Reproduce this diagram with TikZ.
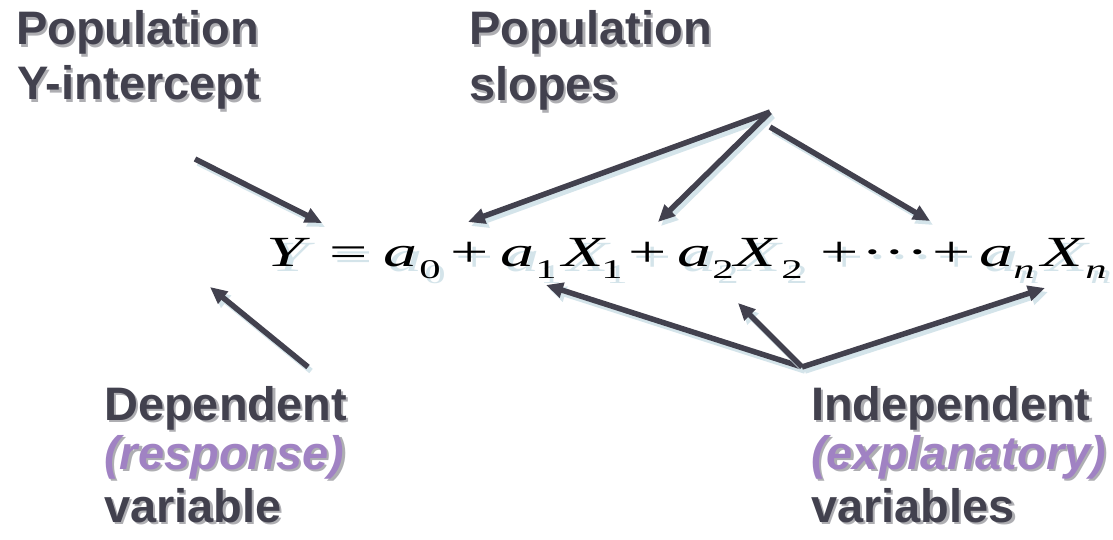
\documentclass[tikz,border=0pt]{standalone}
\usepackage{fontspec}
\setmainfont{Liberation Serif}
\newfontfamily\labfont{Liberation Sans}
\usetikzlibrary{arrows.meta}
\definecolor{ink}{RGB}{66,65,78}
\definecolor{lilac}{RGB}{160,130,195}
\definecolor{shade}{RGB}{212,228,234}
\definecolor{tshadow}{RGB}{120,120,128}
\newcommand\eqbig{\fontsize{43}{43}\selectfont}
\newcommand\eqsmall{\fontsize{27}{27}\selectfont}
\newcommand\lbl[5]{%
  \node[lab,text=tshadow,opacity=0.6] (#1-sh) at ({#2+2.2},{#3+2.5}) {#5};
  \node[lab,text=#4] (#1) at (#2,#3) {#5};}
% equation glyph group: name, x, baseline y, font, content
\newcommand\eqg[5]{%
  \begin{scope}[shift={({#2+5},{#3+5})},xscale=1.58]
    \node[eqn,text=shade,font=#4] (#1-sh) at (0,0) {#5};
  \end{scope}
  \begin{scope}[shift={(#2,#3)},xscale=1.58]
    \node[eqn,font=#4] (#1) at (0,0) {#5};
  \end{scope}}
\tikzset{
  lab/.style={anchor=base west, inner sep=0pt, font=\labfont\bfseries\fontsize{47}{52}\selectfont},
  eqn/.style={anchor=base west, inner sep=0pt, transform shape, text=black},
  arrmain/.style={draw=ink, line width=5.5pt, -{Triangle[length=17pt,width=15pt]}},
  arrshade/.style={draw=shade, line width=5.5pt, -{Triangle[length=17pt,width=15pt]}},
}
\newcommand\arr[2]{%
  \draw[arrshade] ([shift={(3,4)}]#1) -- ([shift={(3,4)}]#2);
  \draw[arrmain] (#1) -- (#2);}
\begin{document}
\begin{tikzpicture}[x=1pt,y=-1pt]
\useasboundingbox[fill=white] (0,0) rectangle (1113,540);
% labels
\lbl{pop1}{16}{45}{ink}{Population}
\lbl{pop2}{17}{100}{ink}{Y-intercept}
\lbl{slo1}{469}{45}{ink}{Population}
\lbl{slo2}{469}{101}{ink}{slopes}
\lbl{dep1}{104}{420}{ink}{Dependent}
\lbl{dep2}{104}{469}{lilac}{\itshape (response)}
\lbl{dep3}{104}{522}{ink}{variable}
\lbl{ind1}{811}{420}{ink}{Independent}
\lbl{ind2}{811}{469}{lilac}{\itshape (explanatory)}
\lbl{ind3}{811}{522}{ink}{variables}
% equation
\eqg{eqY}{266}{266}{\eqbig\itshape}{Y}
\eqg{eqeq}{329}{266}{\eqbig}{=}
\eqg{eqa0}{383}{266}{\eqbig\itshape}{a}
\eqg{eqs0}{419}{278}{\eqsmall}{0}
\eqg{eqp1}{450}{266}{\eqbig}{+}
\eqg{eqa1}{500}{266}{\eqbig\itshape}{a}
\eqg{eqs1}{535}{278}{\eqsmall}{1}
\eqg{eqX1}{562}{266}{\eqbig\itshape}{X}
\eqg{eqt1}{601}{278}{\eqsmall}{1}
\eqg{eqp2}{628}{266}{\eqbig}{+}
\eqg{eqa2}{677}{266}{\eqbig\itshape}{a}
\eqg{eqs2}{712}{278}{\eqsmall}{2}
\eqg{eqX2}{734}{266}{\eqbig\itshape}{X}
\eqg{eqt2}{781}{278}{\eqsmall}{2}
\eqg{eqp3}{820}{266}{\eqbig}{+}
\eqg{eqdots}{861}{266}{\eqbig}{\textperiodcentered\textperiodcentered\textperiodcentered}
\eqg{eqp4}{932}{266}{\eqbig}{+}
\eqg{eqan}{979}{266}{\eqbig\itshape}{a}
\eqg{eqsn}{1013}{278}{\eqsmall\itshape}{n}
\eqg{eqXn}{1041}{266}{\eqbig\itshape}{X}
\eqg{eqtn}{1085}{278}{\eqsmall\itshape}{n}
% arrow end points
\coordinate (ic-s) at (195,159);  \coordinate (ic-t) at (322,223);
\coordinate (sl-a) at (770,112);  \coordinate (sl-b) at (770,127);
\coordinate (sl-t0) at (468,222); \coordinate (sl-t1) at (658,222);
\coordinate (sl-tn) at (930,221);
\coordinate (de-s) at (308,367);  \coordinate (de-t) at (210,287);
\coordinate (in-s) at (802,367);
\coordinate (in-t1) at (546,285); \coordinate (in-t2) at (738,303);
\coordinate (in-tn) at (1045,288);
\arr{ic-s}{ic-t}
\arr{sl-a}{sl-t0}
\arr{sl-a}{sl-t1}
\arr{sl-b}{sl-tn}
\arr{de-s}{de-t}
\arr{in-s}{in-t1}
\arr{in-s}{in-t2}
\arr{in-s}{in-tn}
\end{tikzpicture}
\end{document}
